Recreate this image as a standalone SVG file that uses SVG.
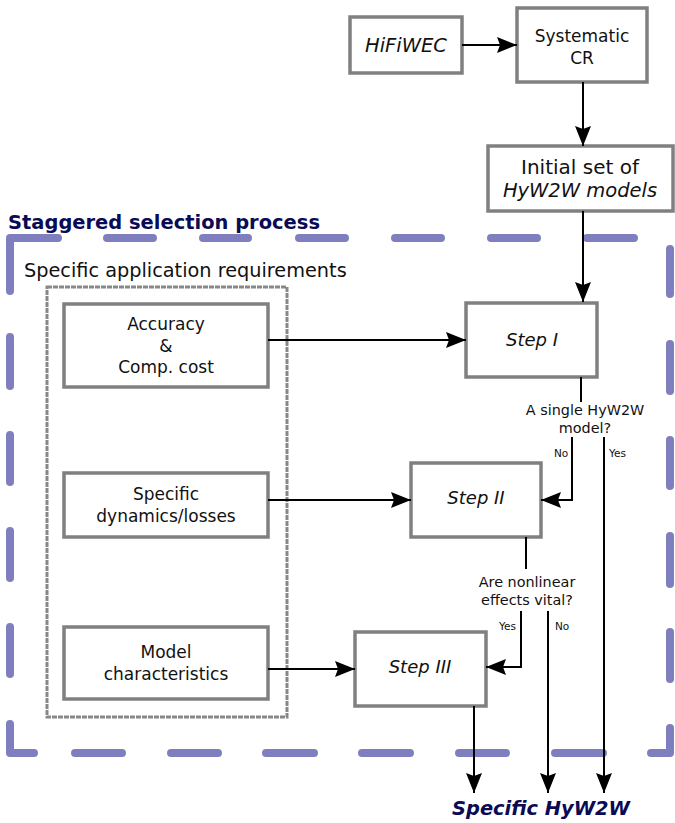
<svg xmlns="http://www.w3.org/2000/svg" width="675" height="823" viewBox="0 0 675 823">
<style>
text{font-family:"DejaVu Sans","Liberation Sans",sans-serif;fill:#111;}
.box{fill:#fff;stroke:#808080;stroke-width:3.5;}
.t17{font-size:17px;text-anchor:middle;}
.step{font-size:18px;font-style:italic;text-anchor:middle;}
.q{font-size:14.4px;text-anchor:middle;}
.lab{font-size:10.5px;}
.con{fill:none;stroke:#000;stroke-width:2;}
.arr{marker-end:url(#ah);}
.border{fill:none;stroke:#7f7fbf;stroke-width:8;stroke-linecap:round;stroke-linejoin:round;}
.navy{fill:#0a0a55;font-weight:bold;}
</style>
<defs>
<marker id="ah" viewBox="0 0 20 16" refX="20" refY="8" markerWidth="20" markerHeight="16" markerUnits="userSpaceOnUse" orient="auto">
<path d="M0,0 L20,8 L0,16 L3,8 z" fill="#000"/>
</marker>
</defs>

<g id="group-border">
<path class="border" d="M10,291 L10,238 L58,238 M107,238 L153,238 M203,238 L248,238 M299,238 L345,238 M395,238 L441,238 M491,238 L537,238 M587,238 L634,238 M670,249 L670,294 M670,344 L670,391 M670,440 L670,486 M670,536 L670,584 M670,632 L670,679 M670,728 L670,753 L651,753 M603,753 L555,753 M506,753 L459,753 M410,753 L362,753 M314,753 L266,753 M218,753 L171,753 M122,753 L75,753 M34,753 L10,753 L10,724 M10,674 L10,627 M10,578 L10,531 M10,482 L10,435 M10,386 L10,337"/>
<text class="navy" x="8" y="229" font-size="20" textLength="312" lengthAdjust="spacingAndGlyphs">Staggered selection process</text>
</g>

<g id="requirements">
<text x="24" y="277" font-size="19.3">Specific application requirements</text>
<rect x="47" y="287" width="240" height="430" fill="none" stroke="#888" stroke-width="3" stroke-dasharray="5,1"/>
</g>

<g id="hifiwec">
<rect class="box" x="350" y="17" width="112" height="56"/>
<text x="406" y="52" font-size="19.5" font-style="italic" text-anchor="middle">HiFiWEC</text>
</g>
<g id="systematic-cr">
<rect class="box" x="517" y="8" width="130" height="74"/>
<text class="t17" x="582" y="42">Systematic</text>
<text class="t17" x="582" y="64">CR</text>
</g>
<g id="initial-set">
<rect class="box" x="488" y="146" width="185" height="65"/>
<text x="580" y="174" font-size="20" text-anchor="middle">Initial set of</text>
<text x="580" y="197" font-size="19.5" font-style="italic" text-anchor="middle">HyW2W models</text>
</g>

<g id="accuracy">
<rect class="box" x="64" y="304" width="204" height="83"/>
<text class="t17" x="166" y="330">Accuracy</text>
<text class="t17" x="166" y="352">&amp;</text>
<text class="t17" x="166" y="373">Comp. cost</text>
</g>
<g id="specific-dynamics">
<rect class="box" x="64" y="473" width="204" height="64"/>
<text class="t17" x="166" y="500">Specific</text>
<text class="t17" x="166" y="522">dynamics/losses</text>
</g>
<g id="model-characteristics">
<rect class="box" x="64" y="627" width="204" height="72"/>
<text class="t17" x="166" y="658">Model</text>
<text class="t17" x="166" y="680">characteristics</text>
</g>

<g id="step-1">
<rect class="box" x="466" y="303" width="131" height="74"/>
<text class="step" x="532" y="346">Step I</text>
</g>
<g id="step-2">
<rect class="box" x="411" y="463" width="130" height="74"/>
<text class="step" x="476" y="504">Step II</text>
</g>
<g id="step-3">
<rect class="box" x="355" y="632" width="131" height="74"/>
<text class="step" x="420" y="673">Step III</text>
</g>

<g id="decision-1">
<text class="q" x="585" y="415">A single HyW2W</text>
<text class="q" x="585" y="433">model?</text>
<text class="lab" x="554" y="457">No</text>
<text class="lab" x="609" y="457">Yes</text>
</g>
<g id="decision-2">
<text class="q" x="527" y="587">Are nonlinear</text>
<text class="q" x="527" y="605">effects vital?</text>
<text class="lab" x="499" y="630">Yes</text>
<text class="lab" x="555" y="630">No</text>
</g>

<g id="output">
<text class="navy" x="541" y="815" font-size="20" font-style="italic" text-anchor="middle" textLength="178" lengthAdjust="spacingAndGlyphs">Specific HyW2W</text>
</g>

<g id="connectors">
<path class="con arr" d="M462,45 L517,45"/>
<path class="con arr" d="M583,82 L583,146"/>
<path class="con arr" d="M583,211 L583,302"/>
<path class="con arr" d="M268,340 L466,340"/>
<path class="con" d="M581,377 L581,402"/>
<path class="con arr" d="M572,437 L572,500 L541,500"/>
<path class="con arr" d="M604,437 L604,793"/>
<path class="con arr" d="M268,500 L411,500"/>
<path class="con" d="M526,537 L526,569"/>
<path class="con arr" d="M521,611 L521,667 L486,667"/>
<path class="con arr" d="M548,611 L548,793"/>
<path class="con arr" d="M268,669 L355,669"/>
<path class="con arr" d="M474,706 L474,793"/>
</g>
</svg>
